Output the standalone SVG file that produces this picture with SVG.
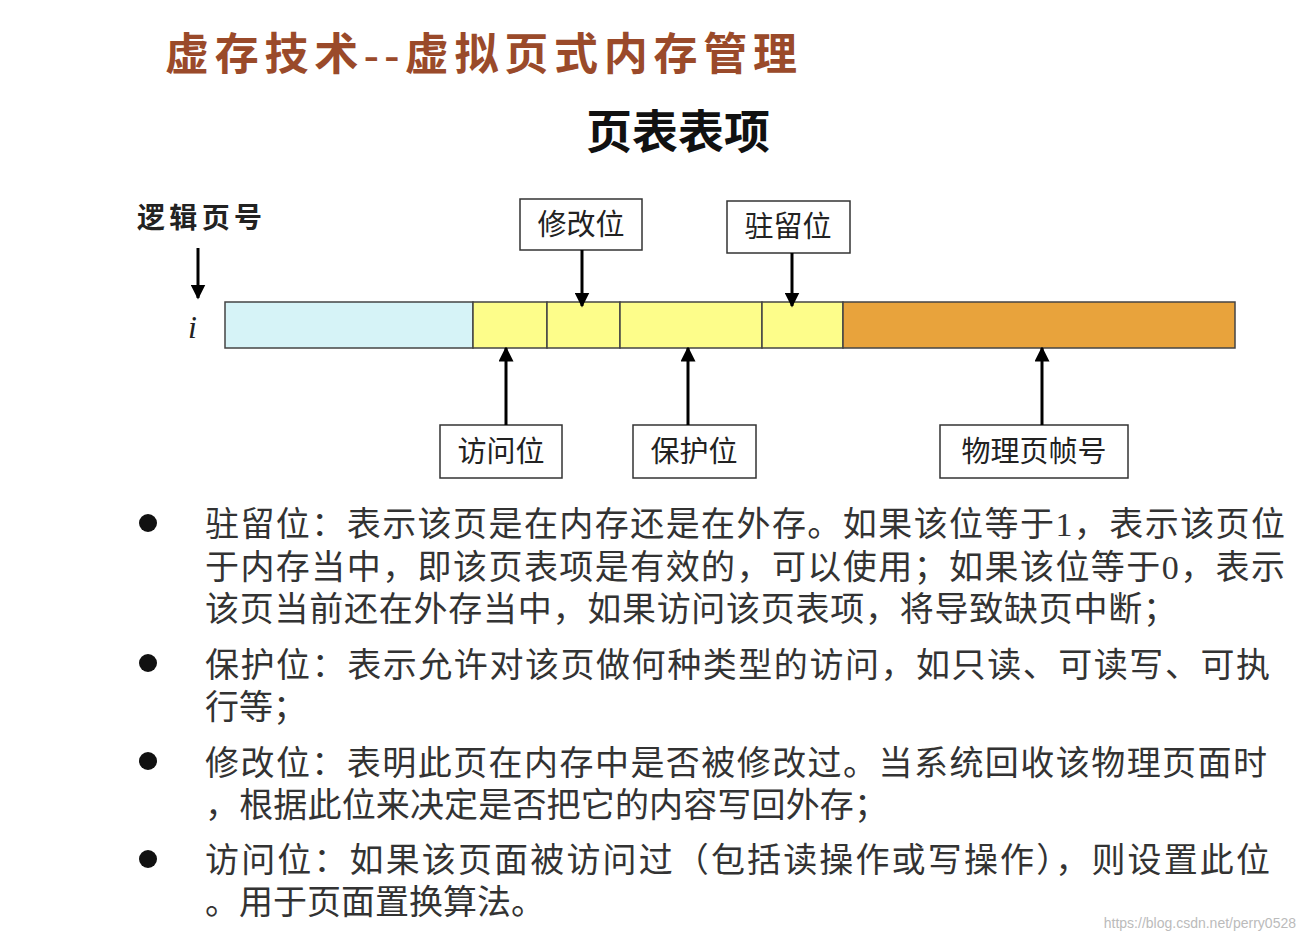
<svg xmlns="http://www.w3.org/2000/svg" width="1306" height="942" viewBox="0 0 1306 942">
<defs>
<marker id="ah" viewBox="0 0 10 10" refX="9" refY="5" markerWidth="5" markerHeight="5" orient="auto"><path d="M0,0L10,5L0,10z" fill="#000"/></marker>
<style>
.cjk{font-family:"Liberation Serif","Noto Sans CJK SC",serif}
.lbl{font-size:29px;fill:#222;text-anchor:middle}
.box{fill:#fff;stroke:#333;stroke-width:1.5}
.cell{stroke:#444;stroke-width:1.5}
.body{font-size:34px;fill:#333}
.conn{stroke:#000;stroke-width:3;marker-end:url(#ah)}
</style>
</defs>
<rect width="1306" height="942" fill="#fff"/>
<text class="cjk" x="165" y="70" font-size="44" font-weight="bold" fill="#9a4a2a" textLength="632">虚存技术--虚拟页式内存管理</text>
<text class="cjk" x="678" y="148" font-size="46" font-weight="bold" fill="#111" text-anchor="middle">页表表项</text>
<g id="logical"><text class="cjk" x="137" y="228" font-size="28" font-weight="bold" fill="#222" textLength="125">逻辑页号</text>
<text x="188" y="338" font-family="Liberation Serif" font-style="italic" font-size="32" fill="#222">i</text></g>
<g id="bar">
<rect class="cell" x="225" y="302" width="248" height="46" fill="#d6f3f7"/>
<rect class="cell" x="473" y="302" width="74" height="46" fill="#fdfd8a"/>
<rect class="cell" x="547" y="302" width="73" height="46" fill="#fdfd8a"/>
<rect class="cell" x="620" y="302" width="142" height="46" fill="#fdfd8a"/>
<rect class="cell" x="762" y="302" width="81" height="46" fill="#fdfd8a"/>
<rect class="cell" x="843" y="302" width="392" height="46" fill="#e8a33c"/>
</g>
<g id="n-modify"><rect class="box" x="520" y="199" width="122" height="51"/><text class="cjk lbl" x="581" y="235">修改位</text></g>
<g id="n-resident"><rect class="box" x="727" y="201" width="123" height="52" stroke="#6a7aa8"/><text class="cjk lbl" x="788" y="237">驻留位</text></g>
<g id="n-access"><rect class="box" x="440" y="425" width="122" height="53"/><text class="cjk lbl" x="501" y="462">访问位</text></g>
<g id="n-protect"><rect class="box" x="633" y="425" width="123" height="53"/><text class="cjk lbl" x="694" y="462">保护位</text></g>
<g id="n-frame"><rect class="box" x="940" y="425" width="188" height="53"/><text class="cjk lbl" x="1034" y="462">物理页帧号</text></g>
<g id="connectors">
<line class="conn" x1="198" y1="248" x2="198" y2="298"/>
<line class="conn" x1="582" y1="250" x2="582" y2="306"/>
<line class="conn" x1="792" y1="253" x2="792" y2="306"/>
<line class="conn" x1="506" y1="425" x2="506" y2="348"/>
<line class="conn" x1="688" y1="425" x2="688" y2="348"/>
<line class="conn" x1="1042" y1="425" x2="1042" y2="348"/>
</g>
<g id="bullets" fill="#111"><circle cx="148" cy="523" r="9"/><circle cx="148" cy="663" r="9"/><circle cx="148" cy="761" r="9"/><circle cx="148" cy="859" r="9"/></g>
<g id="text" class="cjk body">
<text x="205" y="536" textLength="1080">驻留位：表示该页是在内存还是在外存。如果该位等于1，表示该页位</text>
<text x="205" y="579" textLength="1080">于内存当中，即该页表项是有效的，可以使用；如果该位等于0，表示</text>
<text x="205" y="621" textLength="972">该页当前还在外存当中，如果访问该页表项，将导致缺页中断；</text>
<text x="205" y="677" textLength="1065">保护位：表示允许对该页做何种类型的访问，如只读、可读写、可执</text>
<text x="205" y="719">行等；</text>
<text x="205" y="775" textLength="1062">修改位：表明此页在内存中是否被修改过。当系统回收该物理页面时</text>
<text x="205" y="817" textLength="683">，根据此位来决定是否把它的内容写回外存；</text>
<text x="205" y="872" textLength="1065">访问位：如果该页面被访问过（包括读操作或写操作），则设置此位</text>
<text x="205" y="914" textLength="340">。用于页面置换算法。</text>
</g>
<text x="1296" y="928" font-family="Liberation Sans" font-size="14" fill="#bbb" text-anchor="end">https://blog.csdn.net/perry0528</text>
</svg>
